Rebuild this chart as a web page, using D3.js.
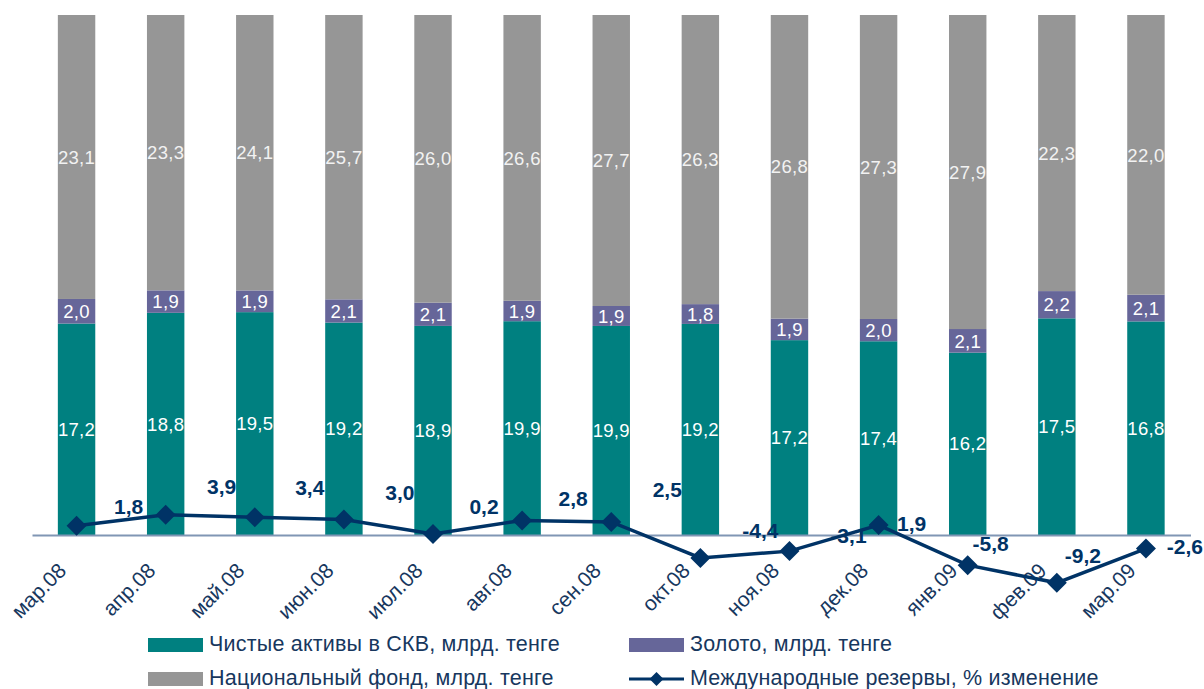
<!DOCTYPE html>
<html><head><meta charset="utf-8">
<script src="https://cdn.jsdelivr.net/npm/d3@7"></script>
<style>
body{margin:0;background:#fff;}
svg{display:block;font-family:Arial,"Liberation Sans",sans-serif;}
</style></head>
<body><svg id="c" width="1204" height="689"></svg>
<script>
const categories = ["мар.08","апр.08","май.08","июн.08","июл.08","авг.08","сен.08","окт.08","ноя.08","дек.08","янв.09","фев.09","мар.09"];
const skv = [17.2,18.8,19.5,19.2,18.9,19.9,19.9,19.2,17.2,17.4,16.2,17.5,16.8];
const gold = [2.0,1.9,1.9,2.1,2.1,1.9,1.9,1.8,1.9,2.0,2.1,2.2,2.1];
const natFund = [23.1,23.3,24.1,25.7,26.0,26.6,27.7,26.3,26.8,27.3,27.9,22.3,22.0];
const reserves = [1.8,3.9,3.4,3.0,0.2,2.8,2.5,-4.4,-3.1,1.9,-5.8,-9.2,-2.6];
const seriesNames = ["Чистые активы в СКВ, млрд. тенге","Золото, млрд. тенге","Национальный фонд, млрд. тенге","Международные резервы, % изменение"];
// label offsets for line data labels (style only)
const lblOffsets = [[52,-19],[56,-28],[55,-30],[56,-27],[51,-28],[51,-22],[56,-33],[60,-27],[59,-16],[33,-2],[23,-22],[26,-27],[39,-2]];

const colors = ["#008080","#666699","#969696"];
const navy = "#003366";
const textCol = "#17375e";
const fmt = v => d3.format(".1f")(v).replace(".", ",").replace("\u2212", "-");

const svg = d3.select("#c");
const x = d3.scaleBand().domain(categories).range([32, 1190.5]).paddingInner(0.58).paddingOuter(0.29);
const y = d3.scaleLinear().domain([0, 100]).range([535, 15]);

const rows = categories.map((c,i) => ({cat:c, skv:skv[i], gold:gold[i], nf:natFund[i], tot:skv[i]+gold[i]+natFund[i]}));
const keys = ["skv","gold","nf"];
const stack = d3.stack().keys(keys).value((d,k) => d[k] / d.tot * 100);
const stacked = stack(rows);

const gBars = svg.append("g");
stacked.forEach((s, si) => {
  const g = gBars.append("g").attr("fill", colors[si]);
  g.selectAll("rect").data(s).join("rect")
    .attr("x", d => x(d.data.cat))
    .attr("width", x.bandwidth())
    .attr("y", d => y(d[1]))
    .attr("height", d => y(d[0]) - y(d[1]));
  gBars.append("g").selectAll("text").data(s).join("text")
    .attr("x", d => x(d.data.cat) + x.bandwidth()/2)
    .attr("y", d => (y(d[0]) + y(d[1]))/2)
    .attr("dy", "0.36em")
    .attr("text-anchor", "middle")
    .attr("fill", si === 2 ? "#f2f2f2" : "#ffffff")
    .attr("font-size", 18.5)
    .attr("letter-spacing", 0.3)
    .text(d => fmt(d.data[keys[si]]));
});

// axis line
const xAxis = d3.axisBottom(x).tickSize(0).tickFormat("");
const ax = svg.append("g").attr("transform", "translate(0,535)").call(xAxis);
ax.select(".domain").attr("stroke", "#8096b4").attr("stroke-width", 2);

// x labels
svg.append("g").selectAll("text").data(categories).join("text")
  .attr("transform", d => `translate(${x(d) + x.bandwidth()/2 - 9},572) rotate(-45)`)
  .attr("text-anchor", "end")
  .attr("fill", textCol)
  .attr("font-size", 21)
  .text(d => d);

// line
const cx = i => x(categories[i]) + x.bandwidth()/2;
const line = d3.line().x((d,i) => cx(i)).y(d => y(d));
svg.append("path").datum(reserves).attr("d", line)
  .attr("fill", "none").attr("stroke", navy).attr("stroke-width", 3.5);
const diamond = r => `M0,${-r}L${r},0L0,${r}L${-r},0Z`;
svg.append("g").selectAll("path").data(reserves).join("path")
  .attr("transform", (d,i) => `translate(${cx(i)},${y(d)})`)
  .attr("d", diamond(10))
  .attr("fill", navy);
svg.append("g").selectAll("text").data(reserves).join("text")
  .attr("x", (d,i) => cx(i) + lblOffsets[i][0])
  .attr("y", (d,i) => y(d) + lblOffsets[i][1])
  .attr("dy", "0.36em")
  .attr("text-anchor", "middle")
  .attr("font-weight", "bold")
  .attr("font-size", 21)
  .attr("fill", navy)
  .text(d => fmt(d));

// legend
const leg = svg.append("g");
const legItems = [
  {x:148, y:645, type:"rect", c:colors[0], t:seriesNames[0]},
  {x:629, y:645, type:"rect", c:colors[1], t:seriesNames[1]},
  {x:148, y:679, type:"rect", c:colors[2], t:seriesNames[2]},
  {x:629, y:679, type:"line", c:navy, t:seriesNames[3]}
];
legItems.forEach(it => {
  if (it.type === "rect") {
    leg.append("rect").attr("x", it.x).attr("y", it.y - 7).attr("width", 55).attr("height", 14).attr("fill", it.c);
  } else {
    leg.append("line").attr("x1", it.x).attr("x2", it.x + 55).attr("y1", it.y).attr("y2", it.y)
      .attr("stroke", it.c).attr("stroke-width", 3);
    leg.append("path").attr("transform", `translate(${it.x + 27.5},${it.y})`).attr("d", diamond(7)).attr("fill", it.c);
  }
  leg.append("text").attr("x", it.x + 61).attr("y", it.y + 6)
    .attr("fill", textCol).attr("font-size", 21.5).attr("letter-spacing", 0.2).text(it.t);
});
</script></body></html>
